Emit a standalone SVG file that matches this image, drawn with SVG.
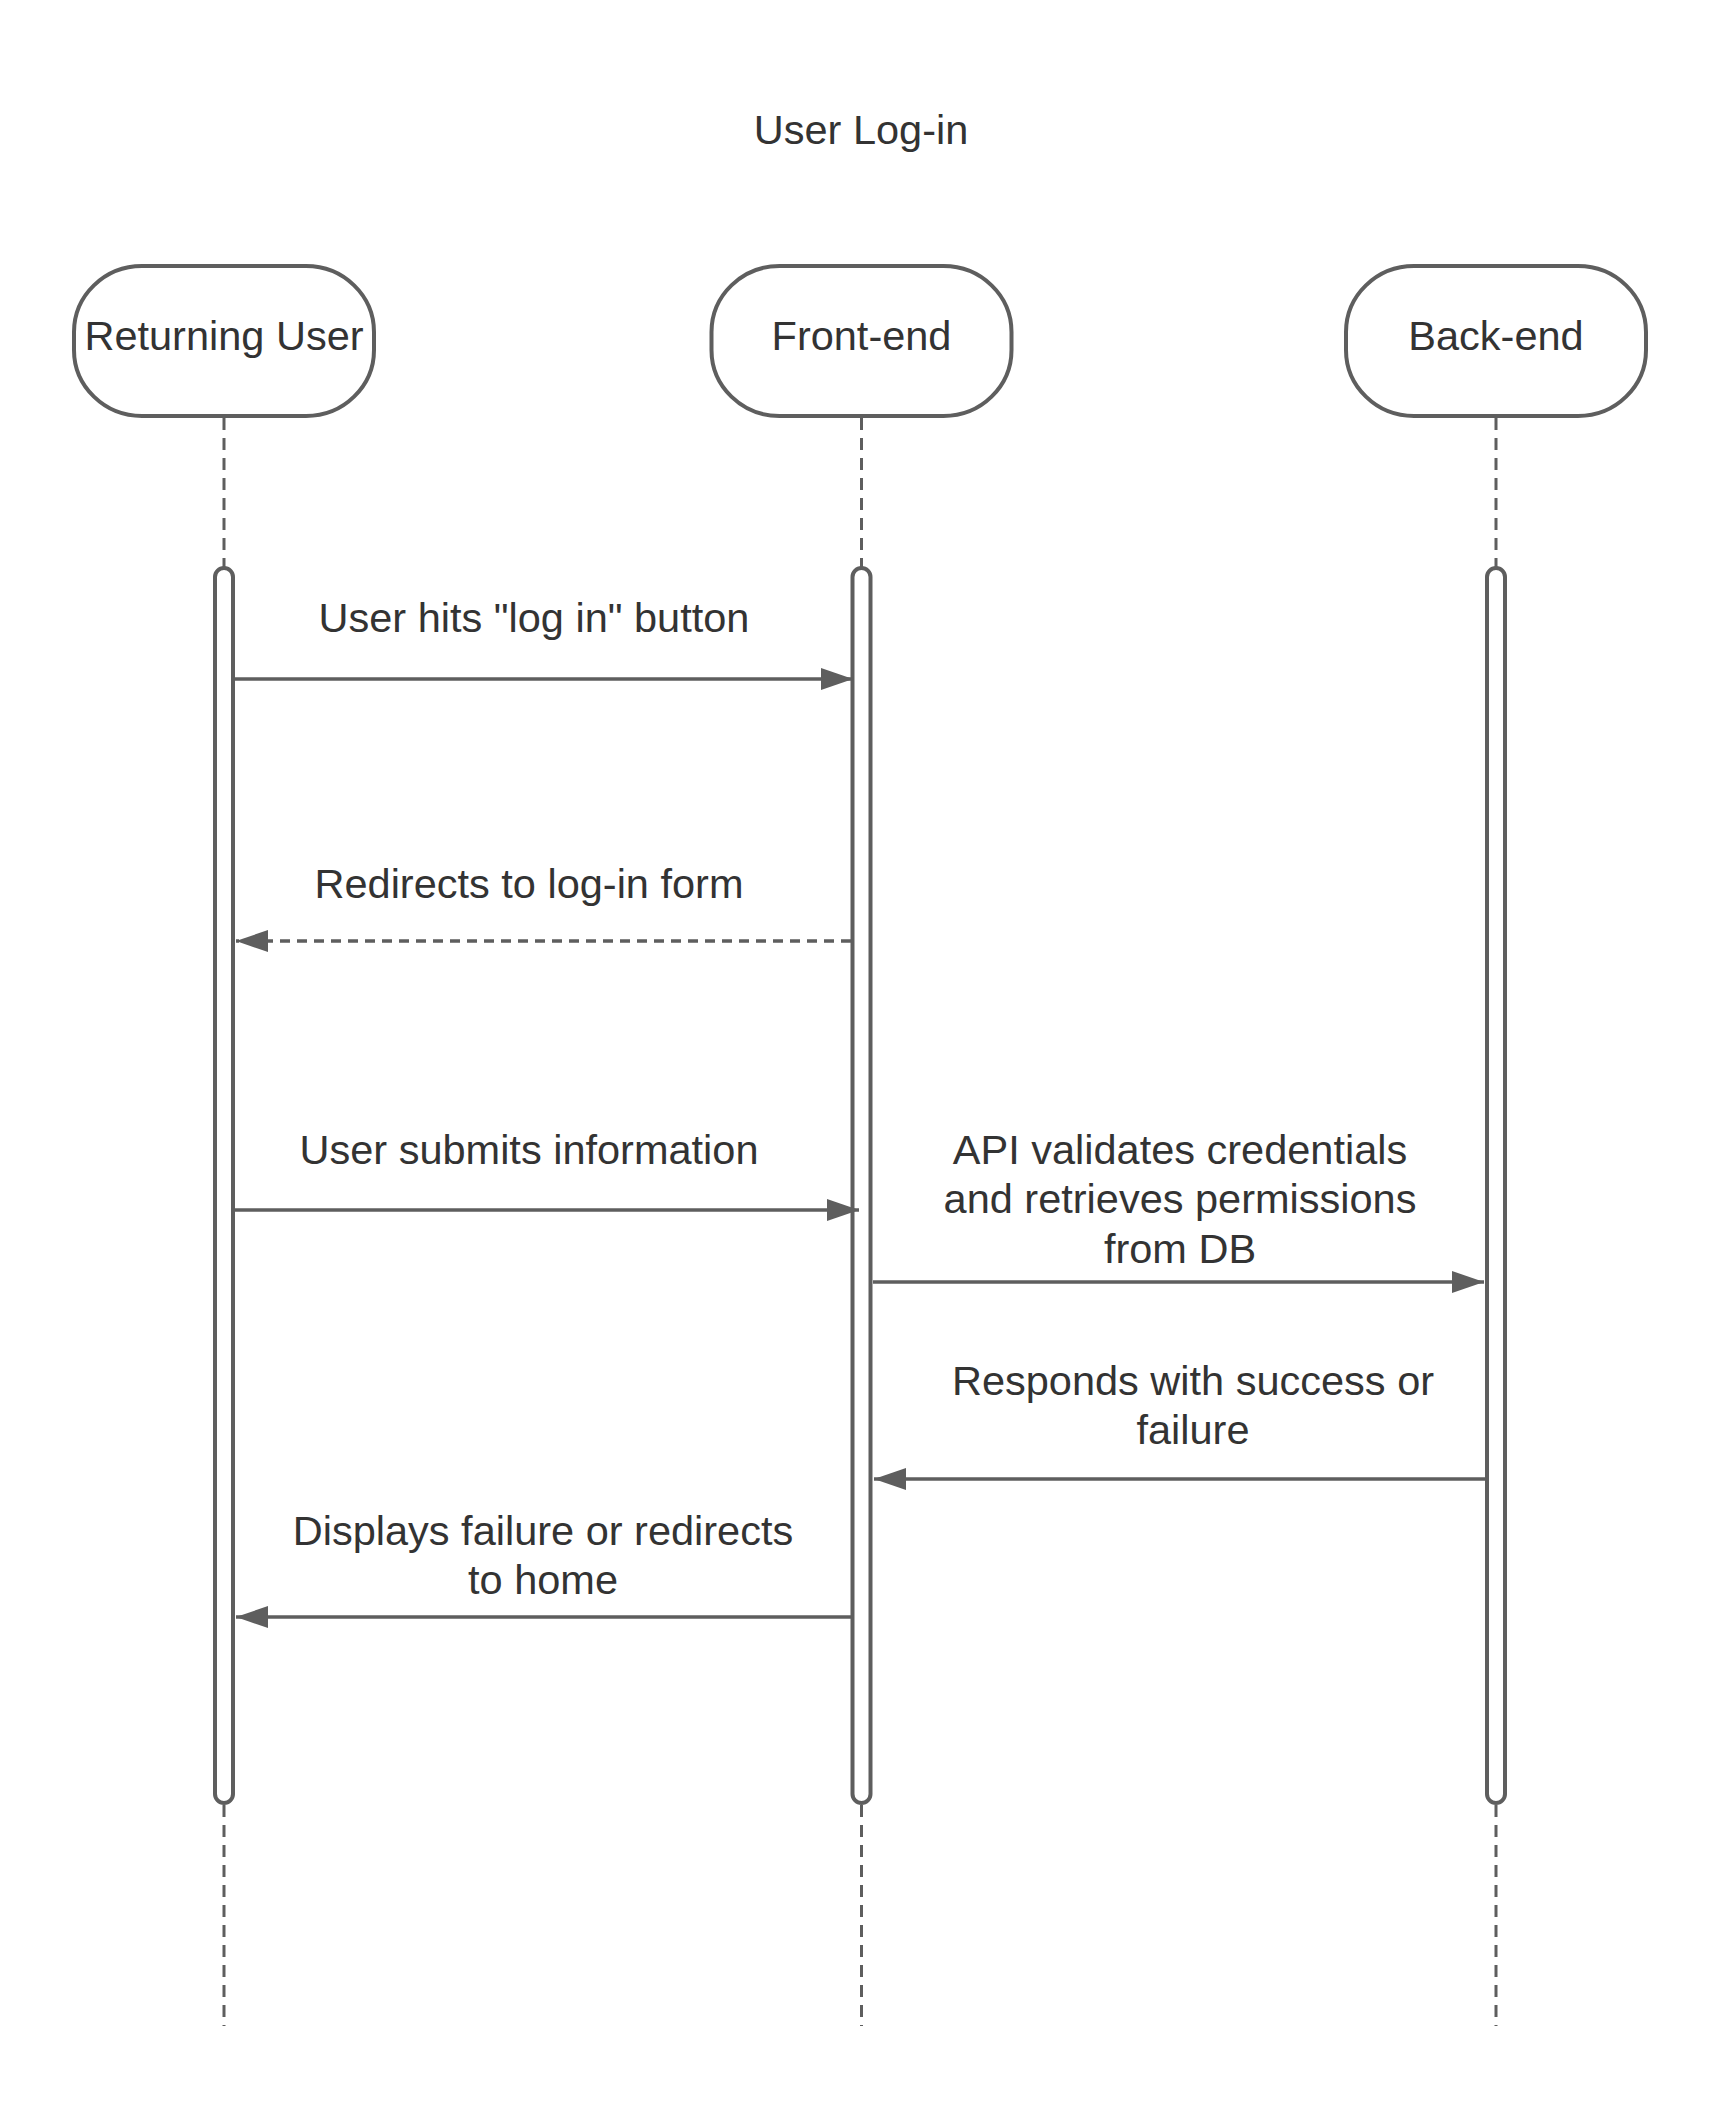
<svg xmlns="http://www.w3.org/2000/svg" width="1723" height="2104" viewBox="0 0 1723 2104">
<style>
text{font-family:"Liberation Sans",Arial,sans-serif;font-size:41.5px;fill:#333333;text-anchor:middle}
.node{fill:#ffffff;stroke:#5e5e5e;stroke-width:4}
.bar{fill:#ffffff;stroke:#5e5e5e;stroke-width:4}
.life{stroke:#5e5e5e;stroke-width:3;stroke-dasharray:12 8;fill:none}
.msg{stroke:#5e5e5e;stroke-width:3.5;fill:none}
.dash{stroke-dasharray:10 7}
</style>
<defs>
<marker id="ah" viewBox="0 0 32 22" refX="32" refY="11" markerWidth="32" markerHeight="22" markerUnits="userSpaceOnUse" orient="auto">
<path d="M0 0 L32 11 L0 22 Z" fill="#5e5e5e"/>
</marker>
</defs>
<rect width="1723" height="2104" fill="#ffffff"/>
<text x="861" y="144">User Log-in</text>
<g id="lifelines">
<line class="life" x1="224" y1="418" x2="224" y2="568"/>
<line class="life" x1="224" y1="1805" x2="224" y2="2026"/>
<line class="life" x1="861.5" y1="418" x2="861.5" y2="568"/>
<line class="life" x1="861.5" y1="1805" x2="861.5" y2="2026"/>
<line class="life" x1="1496" y1="418" x2="1496" y2="568"/>
<line class="life" x1="1496" y1="1805" x2="1496" y2="2026"/>
</g>
<g id="node-returning-user">
<rect class="node" x="74" y="266" width="300" height="150" rx="68" ry="66"/>
<text x="224" y="350">Returning User</text>
</g>
<g id="node-front-end">
<rect class="node" x="711.5" y="266" width="300" height="150" rx="68" ry="66"/>
<text x="861.5" y="350">Front-end</text>
</g>
<g id="node-back-end">
<rect class="node" x="1346" y="266" width="300" height="150" rx="68" ry="66"/>
<text x="1496" y="350">Back-end</text>
</g>
<g id="activations">
<rect class="bar" x="215" y="568" width="18" height="1235" rx="9" ry="9"/>
<rect class="bar" x="852.5" y="568" width="18" height="1235" rx="9" ry="9"/>
<rect class="bar" x="1487" y="568" width="18" height="1235" rx="9" ry="9"/>
</g>
<g id="connectors">
<line class="msg" x1="235" y1="679" x2="853" y2="679" marker-end="url(#ah)"/>
<line class="msg dash" x1="851" y1="941" x2="236" y2="941" marker-end="url(#ah)"/>
<line class="msg" x1="235" y1="1210" x2="859" y2="1210" marker-end="url(#ah)"/>
<line class="msg" x1="873" y1="1282" x2="1484" y2="1282" marker-end="url(#ah)"/>
<line class="msg" x1="1485" y1="1479" x2="874" y2="1479" marker-end="url(#ah)"/>
<line class="msg" x1="851" y1="1617" x2="236" y2="1617" marker-end="url(#ah)"/>
</g>
<g id="labels">
<text x="534" y="632">User hits "log in" button</text>
<text x="529" y="898">Redirects to log-in form</text>
<text x="529" y="1164">User submits information</text>
<text x="1180" y="1164">API validates credentials</text>
<text x="1180" y="1213">and retrieves permissions</text>
<text x="1180" y="1263">from DB</text>
<text x="1193" y="1395">Responds with success or</text>
<text x="1193" y="1444">failure</text>
<text x="543" y="1545">Displays failure or redirects</text>
<text x="543" y="1594">to home</text>
</g>
</svg>
